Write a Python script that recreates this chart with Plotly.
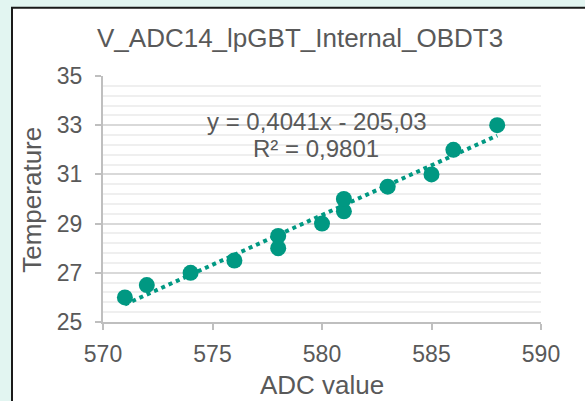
import plotly.graph_objects as go

# Measurements: ADC reading vs temperature
adc_value = [571, 572, 574, 576, 578, 578, 580, 581, 581, 583, 585, 586, 588]
temperature = [26, 26.5, 27, 27.5, 28, 28.5, 29, 29.5, 30, 30.5, 31, 32, 33]

# Linear trendline coefficients (as shown in the equation label)
slope = 0.4041
intercept = -205.03
r_squared = 0.9801

title_text = "V_ADC14_lpGBT_Internal_OBDT3"
x_title = "ADC value"
y_title = "Temperature"

teal = "#009882"
text_grey = "#595959"
font_family = "Liberation Sans, Arial, sans-serif"


def comma(v):
    return str(v).replace(".", ",")


trend_x = [min(adc_value), max(adc_value)]
trend_y = [slope * v + intercept for v in trend_x]

fig = go.Figure()
fig.add_trace(go.Scatter(
    x=trend_x, y=trend_y, mode="lines",
    line=dict(color=teal, width=4, dash="4px,4px"),
    hoverinfo="skip", showlegend=False,
))
fig.add_trace(go.Scatter(
    x=adc_value, y=temperature, mode="markers",
    marker=dict(color=teal, size=16, line=dict(width=0)),
    showlegend=False,
))

W, H = 585, 401
L, R, T, B = 103, 44, 76, 78.5
pw, ph = W - L - R, H - T - B


def px(x):
    return (x - L) / pw


def py(y):
    return (H - B - y) / ph


# White chart card with dark border over the mint page background
fig.add_shape(type="rect", xref="paper", yref="paper",
              x0=px(12), x1=px(600), y0=py(415), y1=py(7.5),
              fillcolor="white", line=dict(color="#1a1a1a", width=2),
              layer="below")


def label(text, x, y, size, angle=0):
    fig.add_annotation(text=text, xref="paper", yref="paper",
                       x=px(x), y=py(y), xanchor="center", yanchor="middle",
                       showarrow=False, textangle=angle,
                       font=dict(size=size, color=text_grey, family=font_family))


label(title_text, 300, 38, 26)
label(f"y = {comma(slope)}x - {comma(-intercept)}", 317, 122, 24)
label(f"R² = {comma(r_squared)}", 316, 149, 24)
label(x_title, 322, 386, 26)
label(y_title, 32, 200, 26, angle=-90)

axis_common = dict(
    zeroline=False,
    showline=True, linecolor="#bfbfbf", linewidth=2,
    ticks="outside", ticklen=6, tickwidth=2, tickcolor="#bfbfbf",
    tickfont=dict(size=23, color=text_grey, family=font_family),
)

fig.update_layout(
    width=W, height=H,
    margin=dict(l=L, r=R, t=T, b=B),
    paper_bgcolor="#e2f5f1",
    plot_bgcolor="white",
    font=dict(family=font_family, color=text_grey, size=20),
    xaxis=dict(
        range=[570, 590], dtick=5, tick0=570,
        showgrid=False,
        ticklabelstandoff=4,
        **axis_common,
    ),
    yaxis=dict(
        range=[25, 35], dtick=2, tick0=25,
        showgrid=True, gridcolor="#d9d9d9", gridwidth=2,
        ticklabelstandoff=8,
        minor=dict(dtick=0.4, tick0=25, showgrid=True,
                   gridcolor="#efefef", gridwidth=1.5),
        **axis_common,
    ),
)

fig.write_html("out.html")
